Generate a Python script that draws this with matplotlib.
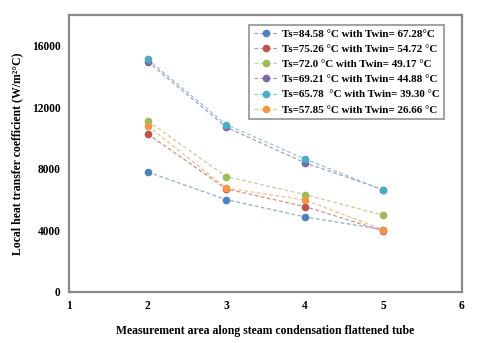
import matplotlib
matplotlib.use("Agg")
import matplotlib.pyplot as plt
import matplotlib.colors as mcolors
import numpy as np

plt.rcParams['font.family'] = ['Liberation Serif', 'DejaVu Serif']
plt.rcParams['font.weight'] = 'bold'

# measurement areas
areas = [2, 3, 4, 5]

# local heat transfer coefficient (W/m2 C) for each case
h_8458 = [7800, 6000, 4880, 4050]
h_7526 = [10280, 6700, 5550, 3970]
h_7200 = [11120, 7500, 6330, 4990]
h_6921 = [14980, 10710, 8400, 6650]
h_6578 = [15130, 10880, 8650, 6620]
h_5785 = [10800, 6750, 5980, 4050]

labels = [
    "Ts=84.58 \u00b0C with Twin= 67.28\u00b0C",
    "Ts=75.26 \u00b0C with Twin= 54.72 \u00b0C",
    "Ts=72.0 \u00b0C with Twin= 49.17 \u00b0C",
    "Ts=69.21 \u00b0C with Twin= 44.88 \u00b0C",
    "Ts=65.78  \u00b0C with Twin= 39.30 \u00b0C",
    "Ts=57.85 \u00b0C with Twin= 26.66 \u00b0C",
]
series = [h_8458, h_7526, h_7200, h_6921, h_6578, h_5785]
colors = ["#4F81BD", "#C0504D", "#9BBB59", "#8064A2", "#4BACC6", "#F79646"]


def lighten(c, amt=0.35):
    rgb = np.array(mcolors.to_rgb(c))
    return tuple(rgb + (1 - rgb) * amt)


fig = plt.figure(figsize=(4.8, 3.43), dpi=100)
ax = fig.add_axes([0.144, 0.149, 0.818, 0.807])

for vals, lab, c in zip(series, labels, colors):
    ax.plot(areas, vals, linestyle=(0, (3, 2)), linewidth=0.9, color=lighten(c),
            marker='o', markersize=4.5, markerfacecolor=c, markeredgecolor=c,
            label=lab)

ax.set_xlim(1, 6)
ax.set_ylim(0, 18000)
ax.set_xticks([1, 2, 3, 4, 5, 6])
ax.set_yticks([0, 4000, 8000, 12000, 16000])
ax.tick_params(length=0, labelsize=8.3, pad=6)
for lbl in ax.get_xticklabels() + ax.get_yticklabels():
    lbl.set_fontweight('bold')
for s in ax.spines.values():
    s.set_color("#898989")
    s.set_linewidth(1.6)

ax.set_xlabel("Measurement area along steam condensation flattened tube",
              fontsize=8.5, fontweight='bold', labelpad=9)
ax.set_ylabel("Local heat transfer coefficient (W/m\u00b2\u00b0C)",
              fontsize=8.5, fontweight='bold', labelpad=6)

leg = ax.legend(loc='upper right', bbox_to_anchor=(0.97, 0.985),
                frameon=True, fancybox=False, edgecolor="#898989",
                handlelength=2.2, labelspacing=0.5, borderpad=0.4,
                handletextpad=0.4, prop={'weight': 'bold', 'size': 7.9})
leg.get_frame().set_linewidth(1.4)

fig.savefig("out.png", dpi=100)
